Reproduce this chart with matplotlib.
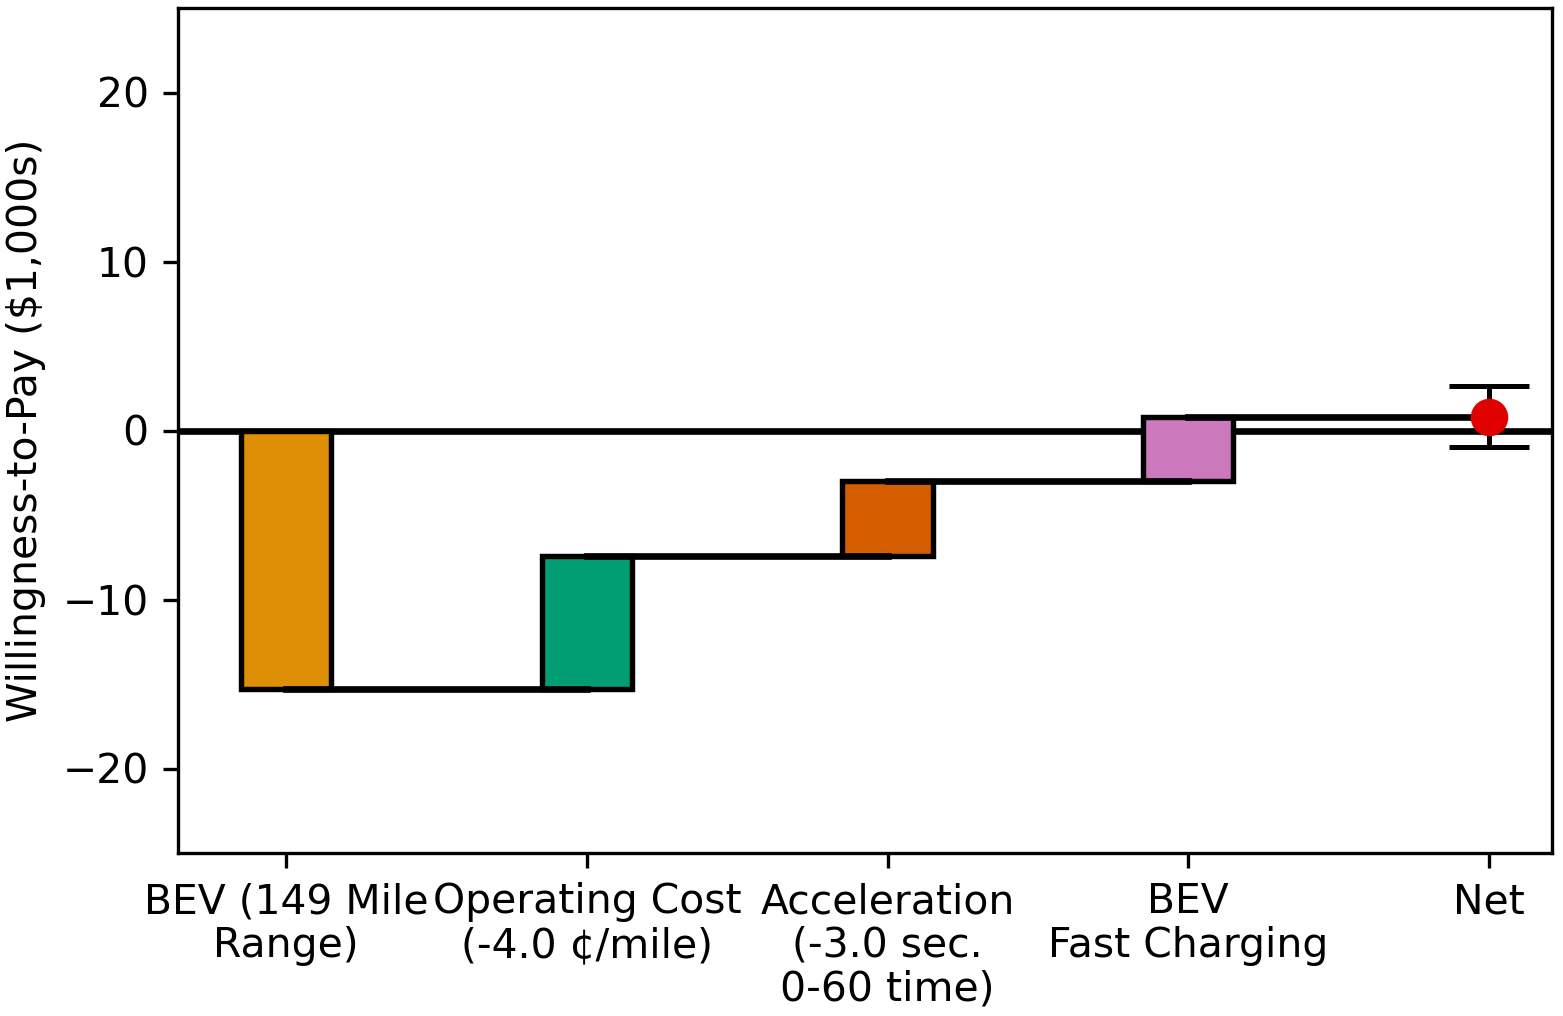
import matplotlib
matplotlib.use("Agg")
import matplotlib.pyplot as plt

# =========================
# DATA
# =========================

labels = [
    "BEV (149 Mile\nRange)",
    "Operating Cost\n(-4.0 ¢/mile)",
    "Acceleration\n(-3.0 sec.\n0-60 time)",
    "BEV\nFast Charging",
    "Net",
]
changes = [-15.3, 7.85, 4.45, 3.78]
colors = ["#DE8F05", "#029E73", "#D55E00", "#CC78BC"]
net_value = 0.78
net_lower = -1.0
net_upper = 2.65

# =========================
# PLOT
# =========================

plt.rcParams["font.size"] = 9.8

fig = plt.figure(figsize=(1563 / 300, 1016 / 300), dpi=300)
ax = fig.add_axes([178 / 1563, 1 - 853 / 1016, 1374 / 1563, 845 / 1016])

ax.axhline(0, color="black", lw=1.6, zorder=1)

start = 0.0
for i, (delta, color) in enumerate(zip(changes, colors)):
    ax.bar(
        i,
        delta,
        bottom=start,
        width=0.3,
        color=color,
        edgecolor="black",
        linewidth=1.3,
        zorder=2,
    )
    end = start + delta
    ax.plot([i, i + 1], [end, end], color="black", lw=1.6, zorder=3)
    start = end

ax.errorbar(
    len(changes),
    net_value,
    yerr=[[net_value - net_lower], [net_upper - net_value]],
    fmt="o",
    color="#E00000",
    ecolor="black",
    elinewidth=1.2,
    capsize=9.5,
    capthick=1.2,
    markersize=8,
    zorder=4,
)

ax.set_xticks(range(len(labels)))
ax.set_xticklabels(labels, linespacing=1.12)
ax.set_xlim(-0.36, 4.21)
ax.set_ylim(-25, 25)
ax.set_yticks([-20, -10, 0, 10, 20])
ax.set_ylabel("Willingness-to-Pay ($1,000s)")

fig.savefig("out.png", dpi=300)
